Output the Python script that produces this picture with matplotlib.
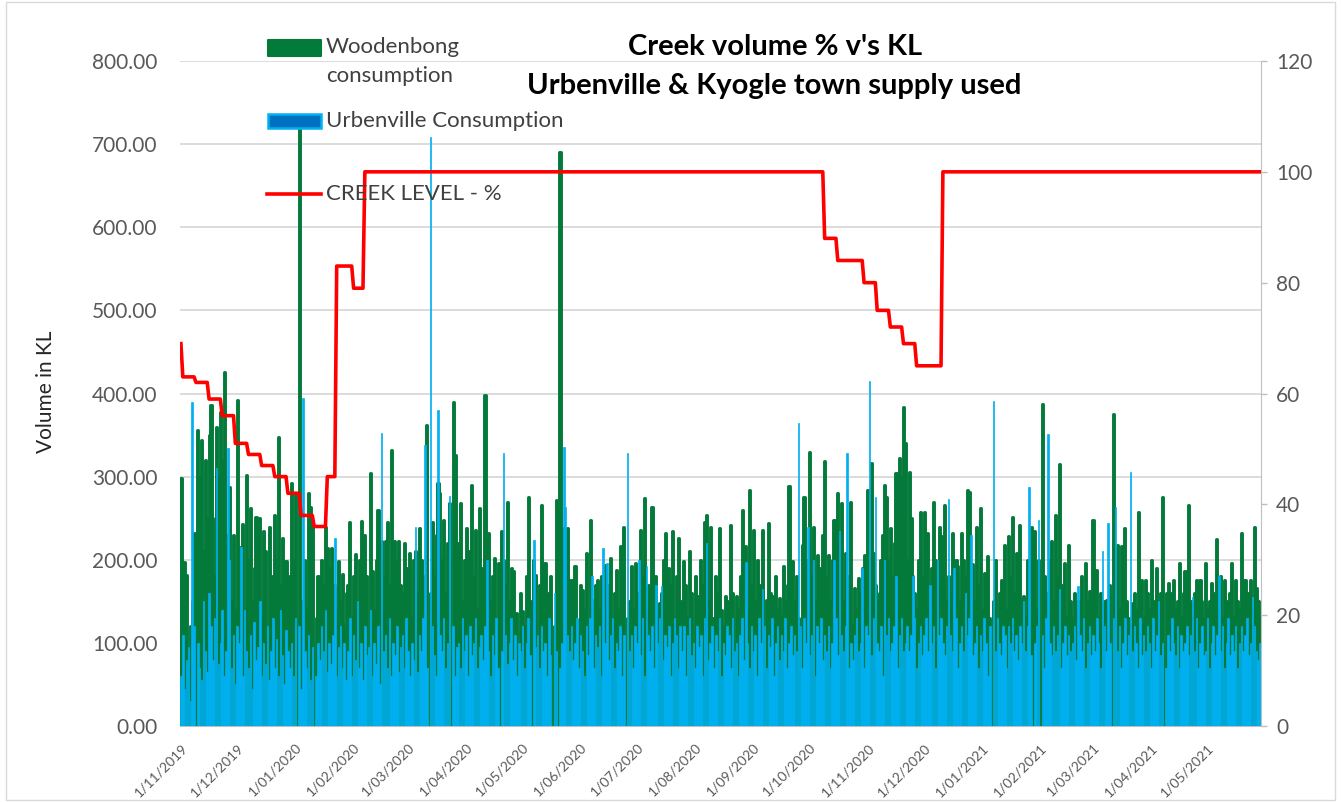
import matplotlib
matplotlib.use("Agg")
import matplotlib.pyplot as plt
import matplotlib.patches as mpatches
import matplotlib.lines as mlines
from matplotlib.ticker import FormatStrFormatter
import pandas as pd

# daily consumption in KL, starting 1/11/2019
woodenbong = [
    298, 140, 197, 182, 95, 120, 150, 232, 0, 356, 300, 344, 210, 320, 250, 350, 386, 250, 180, 360, 300, 378, 320, 426, 230, 200, 287, 150, 230,
    140, 392, 215, 160, 243, 120, 302, 200, 262, 150, 190, 252, 170, 250, 130, 235, 210, 110, 240, 180, 140, 254, 200, 348, 170, 226, 130, 199, 150, 180,
    292, 200, 278, 0, 722, 150, 120, 200, 140, 280, 264, 240, 0, 130, 180, 150, 200, 170, 240, 214, 190, 214, 90, 170, 140, 199, 150, 183, 120, 160,
    170, 245, 130, 180, 207, 150, 200, 247, 160, 230, 180, 80, 304, 187, 140, 200, 260, 150, 222, 180, 222, 245, 170, 332, 150, 222, 200, 222, 170,
    160, 220, 190, 140, 208, 130, 200, 210, 160, 238, 200, 148, 180, 362, 0, 160, 245, 180, 230, 292, 280, 200, 248, 160, 220, 268, 0, 390, 326, 200,
    220, 268, 150, 200, 238, 170, 210, 290, 180, 236, 140, 262, 190, 160, 398, 200, 232, 150, 180, 202, 120, 196, 0, 234, 200, 170, 270, 150, 190,
    186, 120, 136, 100, 160, 138, 120, 180, 276, 150, 0, 200, 182, 110, 170, 266, 140, 196, 120, 160, 180, 0, 120, 272, 0, 690, 190, 238, 150, 238, 176,
    176, 130, 192, 100, 128, 170, 164, 140, 208, 120, 248, 152, 90, 170, 176, 140, 180, 120, 194, 150, 170, 202, 130, 160, 188, 140, 216, 160, 240,
    0, 130, 150, 192, 140, 196, 160, 80, 236, 180, 274, 140, 170, 120, 264, 150, 180, 130, 148, 160, 200, 232, 140, 190, 170, 234, 130, 180, 226, 150,
    140, 198, 170, 130, 210, 160, 90, 180, 156, 140, 200, 170, 246, 254, 150, 240, 130, 120, 180, 160, 238, 140, 120, 156, 150, 130, 242, 160, 70, 156, 140,
    180, 260, 150, 216, 140, 284, 170, 236, 150, 200, 130, 170, 236, 80, 152, 244, 160, 130, 156, 180, 140, 154, 130, 192, 150, 170, 289, 160, 198,
    150, 180, 130, 120, 218, 276, 170, 200, 330, 180, 240, 150, 206, 190, 160, 230, 319, 180, 206, 150, 200, 248, 170, 280, 200, 268, 150, 208, 140, 180, 270,
    120, 166, 140, 178, 160, 190, 206, 180, 284, 200, 316, 208, 170, 150, 160, 200, 230, 290, 276, 200, 238, 180, 220, 304, 260, 322, 300, 384, 340,
    200, 306, 250, 180, 160, 140, 200, 258, 180, 258, 200, 232, 150, 190, 270, 200, 180, 240, 228, 200, 266, 150, 180, 160, 232, 140, 200, 192, 150, 232,
    200, 180, 284, 282, 188, 195, 150, 239, 170, 262, 140, 184, 160, 205, 130, 0, 150, 200, 120, 160, 176, 150, 218, 140, 228, 180, 252, 160, 208, 130, 242,
    150, 156, 130, 200, 150, 240, 0, 234, 140, 200, 0, 387, 180, 130, 160, 200, 222, 150, 254, 180, 315, 140, 170, 196, 130, 218, 150,
    130, 160, 70, 150, 140, 180, 130, 196, 150, 162, 120, 248, 140, 188, 130, 160, 120, 150, 152, 130, 170, 0, 375, 150, 218, 140, 216, 170, 238, 150,
    130, 120, 148, 160, 140, 258, 150, 176, 130, 176, 160, 140, 200, 150, 130, 190, 150, 160, 275, 0, 160, 172, 130, 160, 176, 140, 150, 196, 130, 160,
    186, 140, 266, 150, 130, 160, 176, 140, 176, 150, 130, 196, 140, 150, 172, 130, 160, 225, 140, 180, 130, 176, 150, 140, 160, 196, 130, 176, 150, 140,
    232, 140, 176, 130, 160, 176, 140, 240, 166, 150, 130,
]

urbenville = [
    60, 110, 45, 80, 95, 30, 390, 120, 0, 100, 70, 55, 150, 90, 65, 160, 120, 80, 130, 310, 75, 100, 140, 60, 90, 335, 200, 70, 110,
    50, 120, 100, 215, 60, 140, 90, 70, 110, 45, 125, 80, 95, 150, 60, 100, 75, 120, 55, 90, 130, 70, 105, 60, 140, 85, 50, 115, 90, 70,
    100, 60, 130, 0, 120, 45, 394, 90, 70, 110, 55, 95, 0, 60, 100, 80, 120, 90, 140, 65, 100, 75, 110, 226, 60, 95, 120, 70, 100, 55,
    90, 130, 60, 110, 80, 150, 70, 100, 55, 120, 85, 95, 140, 60, 100, 75, 120, 50, 352, 90, 110, 70, 130, 60, 100, 85, 120, 65, 95,
    110, 70, 130, 90, 60, 100, 80, 240, 65, 110, 90, 130, 338, 70, 0, 708, 120, 85, 60, 380, 110, 90, 130, 70, 100, 277, 0, 120, 60, 95,
    100, 70, 130, 90, 110, 60, 120, 85, 100, 130, 70, 95, 110, 80, 120, 200, 90, 60, 110, 85, 130, 70, 0, 90, 328, 110, 75, 100, 130,
    80, 110, 60, 100, 90, 120, 70, 100, 130, 85, 0, 224, 95, 110, 70, 120, 90, 100, 60, 130, 85, 0, 160, 90, 0, 70, 100, 336, 264, 110, 90,
    120, 80, 100, 130, 70, 110, 90, 60, 120, 85, 130, 180, 70, 110, 95, 120, 60, 214, 100, 196, 80, 110, 130, 70, 100, 90, 120, 60, 110,
    0, 328, 90, 110, 70, 120, 100, 200, 85, 130, 60, 192, 110, 90, 120, 70, 170, 100, 130, 168, 80, 110, 95, 120, 60, 100, 130, 110, 70, 120,
    90, 120, 60, 110, 130, 85, 100, 70, 120, 95, 110, 60, 130, 220, 80, 100, 120, 70, 110, 90, 130, 60, 100, 85, 120, 110, 70, 130, 90, 100, 60,
    110, 130, 80, 197, 100, 70, 120, 90, 110, 60, 130, 100, 165, 120, 70, 110, 95, 130, 60, 100, 120, 80, 110, 90, 130, 70, 100, 120, 85,
    110, 90, 364, 120, 70, 130, 100, 240, 85, 110, 200, 60, 120, 100, 130, 80, 110, 90, 120, 70, 100, 200, 130, 85, 235, 110, 90, 120, 328, 70, 100,
    80, 110, 130, 90, 100, 190, 70, 120, 110, 415, 85, 130, 275, 100, 90, 120, 60, 200, 110, 130, 90, 100, 120, 180, 70, 110, 130, 90, 100,
    120, 90, 110, 180, 130, 70, 100, 120, 85, 110, 130, 90, 170, 100, 120, 70, 200, 110, 130, 100, 85, 120, 273, 110, 90, 190, 130, 70, 100, 120,
    90, 160, 110, 130, 230, 85, 100, 120, 70, 110, 90, 130, 100, 60, 120, 0, 391, 90, 130, 100, 85, 120, 110, 70, 120, 100, 130, 90, 110, 80, 120,
    100, 150, 90, 120, 288, 85, 0, 100, 120, 248, 0, 110, 70, 130, 351, 100, 85, 120, 90, 110, 165, 70, 100, 120, 85, 110, 90,
    100, 120, 80, 168, 110, 90, 130, 70, 100, 120, 85, 110, 90, 130, 100, 70, 210, 120, 90, 244, 100, 0, 130, 263, 90, 120, 70, 100, 130, 85,
    110, 305, 90, 120, 100, 70, 130, 85, 110, 90, 120, 100, 70, 130, 90, 110, 150, 85, 100, 0, 70, 110, 90, 130, 100, 85, 120, 70, 110, 90,
    100, 120, 85, 110, 155, 90, 130, 70, 100, 120, 85, 90, 130, 70, 100, 120, 85, 110, 180, 90, 120, 70, 100, 130, 85, 110, 90, 120, 70, 100,
    120, 90, 110, 130, 85, 100, 155, 120, 90, 80, 100,
]

# weekly creek readings (%), held until the next reading
creek_dates = ["2019-11-01", "2019-11-02", "2019-11-09", "2019-11-16", "2019-11-23", "2019-11-30",
               "2019-12-07", "2019-12-14", "2019-12-21", "2019-12-28", "2020-01-04", "2020-01-11",
               "2020-01-18", "2020-01-23", "2020-02-01", "2020-02-07", "2020-10-09", "2020-10-16",
               "2020-10-30", "2020-11-06", "2020-11-13", "2020-11-20", "2020-11-27", "2020-12-11"]
creek_pct = [69, 63, 62, 59, 56, 51, 49, 47, 45, 42, 38, 36,
             45, 83, 79, 100, 88, 84, 80, 75, 72, 69, 65, 100]

month_ticks = pd.date_range("2019-11-01", "2021-05-01", freq="MS")
tick_labels = [f"{d.day}/{d.month:02d}/{d.year}" for d in month_ticks]

W, H = 1341, 802
GREEN = "#047A3A"
BLUE = "#00B0F0"
GREY_TXT = "#595959"

plt.rcParams["font.family"] = ["Lato", "DejaVu Sans"]


def fx(px):
    return px / W


def fy(py):
    return 1 - py / H


fig = plt.figure(figsize=(W / 100, H / 100), dpi=100)
ax = fig.add_axes([fx(180), fy(726), fx(1261) - fx(180), fy(61) - fy(726)])

days_w = pd.date_range("2019-11-01", periods=len(woodenbong), freq="D")
days_u = pd.date_range("2019-11-01", periods=len(urbenville), freq="D")

bars = ax.bar(days_w, woodenbong, width=0.6, color=GREEN, edgecolor=GREEN, linewidth=2.1, zorder=2)
for p in bars:
    p.set_joinstyle("round")
ax.bar(days_u, urbenville, width=0.8, color=BLUE, edgecolor=BLUE, linewidth=0.5, zorder=3)

ax.set_ylim(0, 800)
ax.set_yticks(range(0, 801, 100))
ax.yaxis.set_major_formatter(FormatStrFormatter("%.2f"))
ax.set_xlim(days_w[0] - pd.Timedelta(hours=12), days_w[-1] + pd.Timedelta(hours=12))
ax.set_xticks(month_ticks)
ax.set_xticklabels(tick_labels, rotation=45, ha="right", va="top", rotation_mode="anchor",
                   fontsize=10, color=GREY_TXT)
ax.tick_params(axis="x", length=0, pad=11)
ax.tick_params(axis="y", length=0, pad=16, labelsize=15, labelcolor=GREY_TXT)
ax.grid(axis="y", color="#D9D9D9", linewidth=1.3)
ax.set_axisbelow(True)
for s in ["left", "top", "right"]:
    ax.spines[s].set_visible(False)
ax.spines["bottom"].set_color("#BFBFBF")

creek = pd.Series(creek_pct, index=pd.to_datetime(creek_dates)).reindex(days_w, method="ffill")
ax2 = ax.twinx()
ax2.plot(days_w, creek.values, color="#FF0000", linewidth=2.6, zorder=5)
ax2.set_ylim(0, 120)
ax2.set_yticks(range(0, 121, 20))
ax2.tick_params(axis="y", length=4, width=1, color="#BFBFBF", pad=7, labelsize=15, labelcolor=GREY_TXT)
for s in ["left", "top", "bottom"]:
    ax2.spines[s].set_visible(False)
ax2.spines["right"].set_color("#BFBFBF")

fig.text(fx(46), fy(392), "Volume in KL", rotation=90, ha="center", va="center", fontsize=15, color="#262626")

fig.text(fx(775), fy(47), "Creek volume % v's KL", ha="center", va="center", fontsize=21, fontweight="bold")
fig.text(fx(774), fy(86), "Urbenville & Kyogle town supply used", ha="center", va="center",
         fontsize=21, fontweight="bold")

# legend, drawn by hand to keep Excel's layout
fig.add_artist(mpatches.Rectangle((fx(268), fy(56)), fx(53), 16 / H, facecolor=GREEN, edgecolor=GREEN,
                                  linewidth=1.5, joinstyle="round", transform=fig.transFigure))
fig.text(fx(326), fy(47), "Woodenbong", va="center", fontsize=16, color="#404040")
fig.text(fx(326), fy(76), "consumption", va="center", fontsize=16, color="#404040")
fig.add_artist(mpatches.Rectangle((fx(268), fy(128)), fx(53), 14 / H, facecolor="#0070C0", edgecolor=BLUE,
                                  linewidth=1.8, transform=fig.transFigure))
fig.text(fx(326), fy(121), "Urbenville Consumption", va="center", fontsize=16, color="#404040")
fig.add_artist(mlines.Line2D([fx(267), fx(321)], [fy(194), fy(194)], color="#FF0000", linewidth=2.6,
                             transform=fig.transFigure))
fig.text(fx(326), fy(194), "CREEK LEVEL - %", va="center", fontsize=16, color="#404040")

fig.add_artist(mpatches.Rectangle((fx(6), fy(800)), fx(1335) - fx(6), fy(2) - fy(800), fill=False,
                                  edgecolor="#D9D9D9", linewidth=1, transform=fig.transFigure))

fig.savefig("out.png", dpi=100)
